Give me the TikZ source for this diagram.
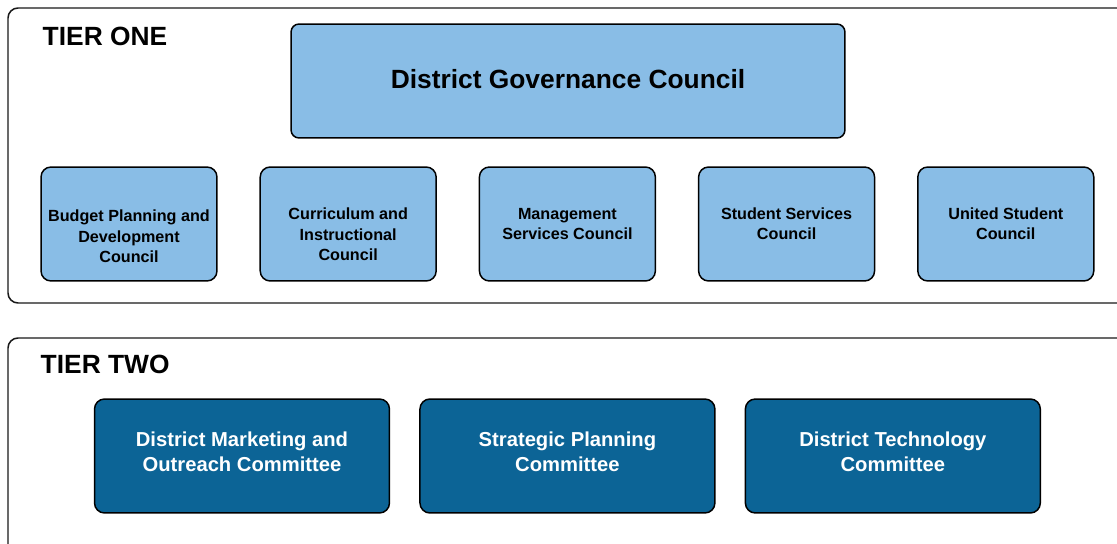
\documentclass[tikz,border=0pt]{standalone}
\usepackage{fontspec}
\setmainfont{Liberation Sans}
\usetikzlibrary{positioning}
\definecolor{councilblue}{HTML}{89BDE6}
\definecolor{committeeblue}{HTML}{0C6496}
\newcommand{\toppad}[1]{\rule{0pt}{#1}}
\tikzset{every picture/.style={line width=0.85pt}}

\begin{document}
\begin{tikzpicture}[x=0.02cm,y=-0.02cm,node distance=0.835cm,align=center,
        tier/.style={draw=black!90, rounded corners=0.2cm},
        tierlabel/.style={anchor=west, inner sep=0pt, font=\fontsize{15}{18}\selectfont\bfseries},
        governance/.style={draw, fill=councilblue, rounded corners=0.16cm, minimum width=11.08cm, minimum height=2.28cm, font=\fontsize{15}{18}\selectfont\bfseries},
        council/.style={draw, fill=councilblue, rounded corners=0.2cm, minimum width=3.52cm, minimum height=2.28cm, inner sep=1pt, font=\fontsize{9.2}{11.6}\selectfont\bfseries},
        committee/.style={draw, fill=committeeblue, text=white, rounded corners=0.2cm, minimum width=5.9cm, minimum height=2.28cm, font=\fontsize{11.5}{14.2}\selectfont\bfseries}]
    \useasboundingbox (0,0) rectangle (1117,544);

    % tier frames
    \draw[tier] (8,8) rectangle (1150,303);
    \draw[tier] (8,338) rectangle (1150,580);
    \node[tierlabel] (tierone) at (42,36) {TIER ONE};
    \node[tierlabel] (tiertwo) at (40,364) {TIER TWO};

    % tier one
    \node[governance] (dgc) at (568,81) {\raisebox{2pt}{District Governance Council}};
    \node[council] (budget) at (129,224) {\toppad{20.9pt}Budget Planning and\\Development\\Council};
    \node[council,right=of budget] (curriculum) {\toppad{18.7pt}Curriculum and\\Instructional\\Council};
    \node[council,right=of curriculum] (management) {Management\\Services Council};
    \node[council,right=of management] (services) {Student Services\\Council};
    \node[council,right=of services] (united) {United Student\\Council};

    % tier two
    \node[committee] (marketing) at (242,456) {District Marketing and\\Outreach Committee\rule[-4.5pt]{0pt}{0pt}};
    \node[committee,right=0.58cm of marketing] (planning) {Strategic Planning\\Committee\rule[-4.5pt]{0pt}{0pt}};
    \node[committee,right=0.58cm of planning] (technology) {District Technology\\Committee\rule[-4.5pt]{0pt}{0pt}};
\end{tikzpicture}
\end{document}
